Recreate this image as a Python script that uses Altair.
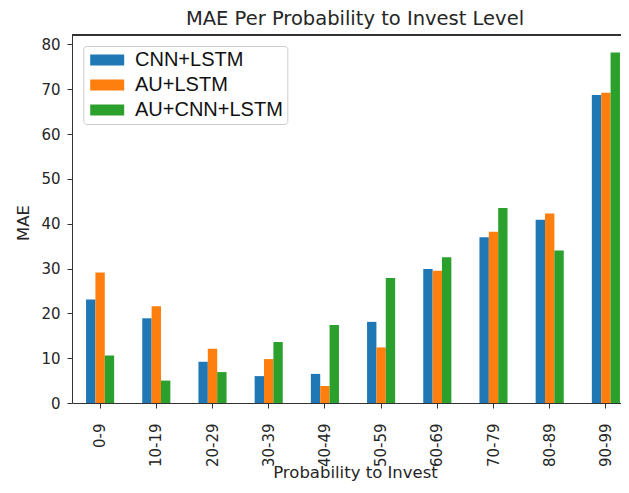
import altair as alt
import pandas as pd

categories = ["0-9", "10-19", "20-29", "30-39", "40-49", "50-59", "60-69", "70-79", "80-89", "90-99"]
series = ["CNN+LSTM", "AU+LSTM", "AU+CNN+LSTM"]
cnn_lstm = [23.1, 18.9, 9.2, 6.0, 6.5, 18.1, 29.9, 37.0, 40.9, 68.7]
au_lstm = [29.1, 21.6, 12.1, 9.8, 3.8, 12.4, 29.5, 38.2, 42.3, 69.2]
au_cnn_lstm = [10.6, 5.0, 6.9, 13.6, 17.4, 27.9, 32.5, 43.5, 34.0, 78.2]
colors = ["#1f77b4", "#ff7f0e", "#2ca02c"]
y_ticks = [0, 10, 20, 30, 40, 50, 60, 70, 80]

rows = []
for name, vals in zip(series, [cnn_lstm, au_lstm, au_cnn_lstm]):
    for c, v in zip(categories, vals):
        rows.append({"range": c, "model": name, "mae": v})
df = pd.DataFrame(rows)

TXT = "#262626"
AX = "#333333"
XR = 562

bars = alt.Chart(df).mark_bar().encode(
    x=alt.X(
        "range:N", sort=categories,
        scale=alt.Scale(paddingInner=0.5, paddingOuter=0.25, range=[0, XR]),
        axis=alt.Axis(
            title="Probability to Invest", labelAngle=270, labelAlign="right",
            labelBaseline="middle", labelPadding=15, tickSize=5,
            titleX=283, titleY=74, titleBaseline="alphabetic", titleAlign="center",
        ),
    ),
    xOffset=alt.XOffset("model:N", sort=series,
                        scale=alt.Scale(paddingOuter=0, paddingInner=0)),
    y=alt.Y(
        "mae:Q", scale=alt.Scale(domain=[0, 82.1], nice=False),
        axis=alt.Axis(
            title="MAE", values=y_ticks, tickSize=5, labelPadding=7,
            titleX=-49, titleY=187.5, titleAngle=270, titleBaseline="middle",
            titleAlign="center",
        ),
    ),
    color=alt.Color(
        "model:N", sort=series,
        scale=alt.Scale(domain=series, range=colors),
        legend=alt.Legend(
            title=None, orient="none", legendX=11.3, legendY=11,
            padding=4, strokeColor="#cccccc", fillColor="white", cornerRadius=3,
            labelFont="Liberation Sans", labelFontSize=20, labelColor="#111111",
            symbolType="M-1.29,-1 H4.89 V1 H-1.29 Z", symbolSize=121,
            symbolStrokeWidth=0, symbolOpacity=1, labelOffset=27.7, rowPadding=5,
        ),
    ),
)

top_spine = alt.Chart(df).mark_rule(color=AX, strokeWidth=1).encode(
    x=alt.value(0), x2=alt.value(XR), y=alt.value(0)
)

chart = alt.layer(bars, top_spine).properties(
    width=549, height=368,
    title=alt.TitleParams(
        "MAE Per Probability to Invest Level", font="DejaVu Sans", fontSize=19.5,
        fontWeight="normal", color=TXT, anchor="middle", frame="group", dx=8.5,
        offset=5,
    ),
    autosize=alt.AutoSizeParams(type="none"),
    padding={"left": 64, "top": 27, "right": 0, "bottom": 78},
).configure_view(
    stroke=None,
).configure_axis(
    grid=False, domainColor=AX, tickColor=AX, labelColor=TXT, titleColor=TXT,
    labelFont="DejaVu Sans", titleFont="DejaVu Sans", labelFontSize=15,
    titleFontSize=16.5, titleFontWeight="normal",
)

chart.save("out.html", embed_options={"renderer": "svg", "actions": False})
